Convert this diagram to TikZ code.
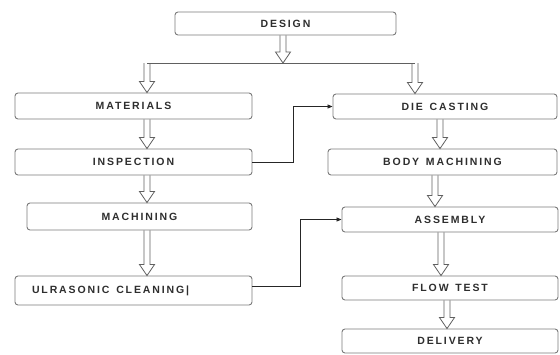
\documentclass[tikz,border=0pt]{standalone}
\usepackage{fontspec}
\newfontfamily\boxfont{Liberation Sans}[LetterSpace=18, WordSpace=1.4]
\usetikzlibrary{arrows.meta,calc}
\definecolor{boxgray}{HTML}{7A7A7A}
\definecolor{textgray}{HTML}{2E2E2E}
\definecolor{shaftgray}{HTML}{606060}

\begin{document}
\begin{tikzpicture}[x=1pt, y=-1pt,
    stage/.style={draw=boxgray, line width=0.9pt, rounded corners=3pt, fill=white, inner sep=0pt,
        text=textgray, font={\boxfont\bfseries\fontsize{10.5}{12}\selectfont}},
    link/.style={draw=black!85, line width=0.8pt, -{Triangle[length=5pt,width=4pt]}},
    hollow/.style={draw=shaftgray, line width=0.8pt, line join=miter,
        to path={let \p1=(\tikztostart), \p2=(\tikztotarget) in
            (\x1-3pt,\y1) -- (\x1-3pt,\y2+11pt) -- (\x1-7.5pt,\y2+11pt) -- (\x1,\y2)
            -- (\x1+7.5pt,\y2+11pt) -- (\x1+3pt,\y2+11pt) -- (\x1+3pt,\y1)}}]
    \useasboundingbox (0, 0) rectangle (560, 354);

    % nodes: design, left column
    \node[stage, minimum width=221pt, minimum height=23pt] (design) at (285.5, 23.5) {DESIGN};
    \node[stage, minimum width=237pt, minimum height=26pt] (materials) at (133.5, 106) {MATERIALS};
    \node[stage, minimum width=237pt, minimum height=26pt] (inspection) at (133.5, 162) {INSPECTION};
    \node[stage, minimum width=225pt, minimum height=27pt] (machining) at (139.5, 216.5) {MACHINING};
    \node[stage, minimum height=29pt, inner xsep=17pt] (ulra) at (133.5, 290.5) {\hbox to 203pt{ULRASONIC CLEANING|\hfil}};
    % nodes: right column
    \node[stage, minimum width=224pt, minimum height=25pt] (diecast) at (445, 106.5) {DIE CASTING};
    \node[stage, minimum width=229pt, minimum height=26pt] (bodymach) at (442.5, 162) {BODY MACHINING};
    \node[stage, minimum width=216pt, minimum height=25pt] (assembly) at (450, 219.5) {ASSEMBLY};
    \node[stage, minimum width=216pt, minimum height=24pt] (flowtest) at (450, 288) {FLOW TEST};
    \node[stage, minimum width=216pt, minimum height=24pt] (delivery) at (450, 341) {DELIVERY};

    % fork under design
    \coordinate (fork) at (283, 63);
    \coordinate (forkL) at (147, 63);
    \coordinate (forkR) at (415, 63);
    \draw[draw=shaftgray, line width=0.8pt] (forkL) -- (forkR);
    \draw[hollow] ([xshift=-2.5pt]design.south) to (fork);
    \draw[hollow] (forkL) to (materials.north);
    \draw[hollow] (forkR) to (diecast.north);

    % edges: left column
    \draw[hollow] (materials.south -| forkL) to (inspection.north);
    \draw[hollow] (inspection.south -| forkL) to (machining.north);
    \draw[hollow] (machining.south -| forkL) to (ulra.north);
    % edges: right column
    \draw[hollow] ([xshift=-5pt]diecast.south) to (bodymach.north);
    \draw[hollow] ([xshift=-7.5pt]bodymach.south) to (assembly.north);
    \draw[hollow] ([xshift=-9pt]assembly.south) to (flowtest.north);
    \draw[hollow] ([xshift=-3pt]flowtest.south) to (delivery.north);

    % cross links
    \draw[link] (inspection.east) -- ++(41, 0) |- (diecast.west);
    \draw[link] ([yshift=4pt]ulra.east) -- ++(48, 0) |- (assembly.west);
\end{tikzpicture}
\end{document}
